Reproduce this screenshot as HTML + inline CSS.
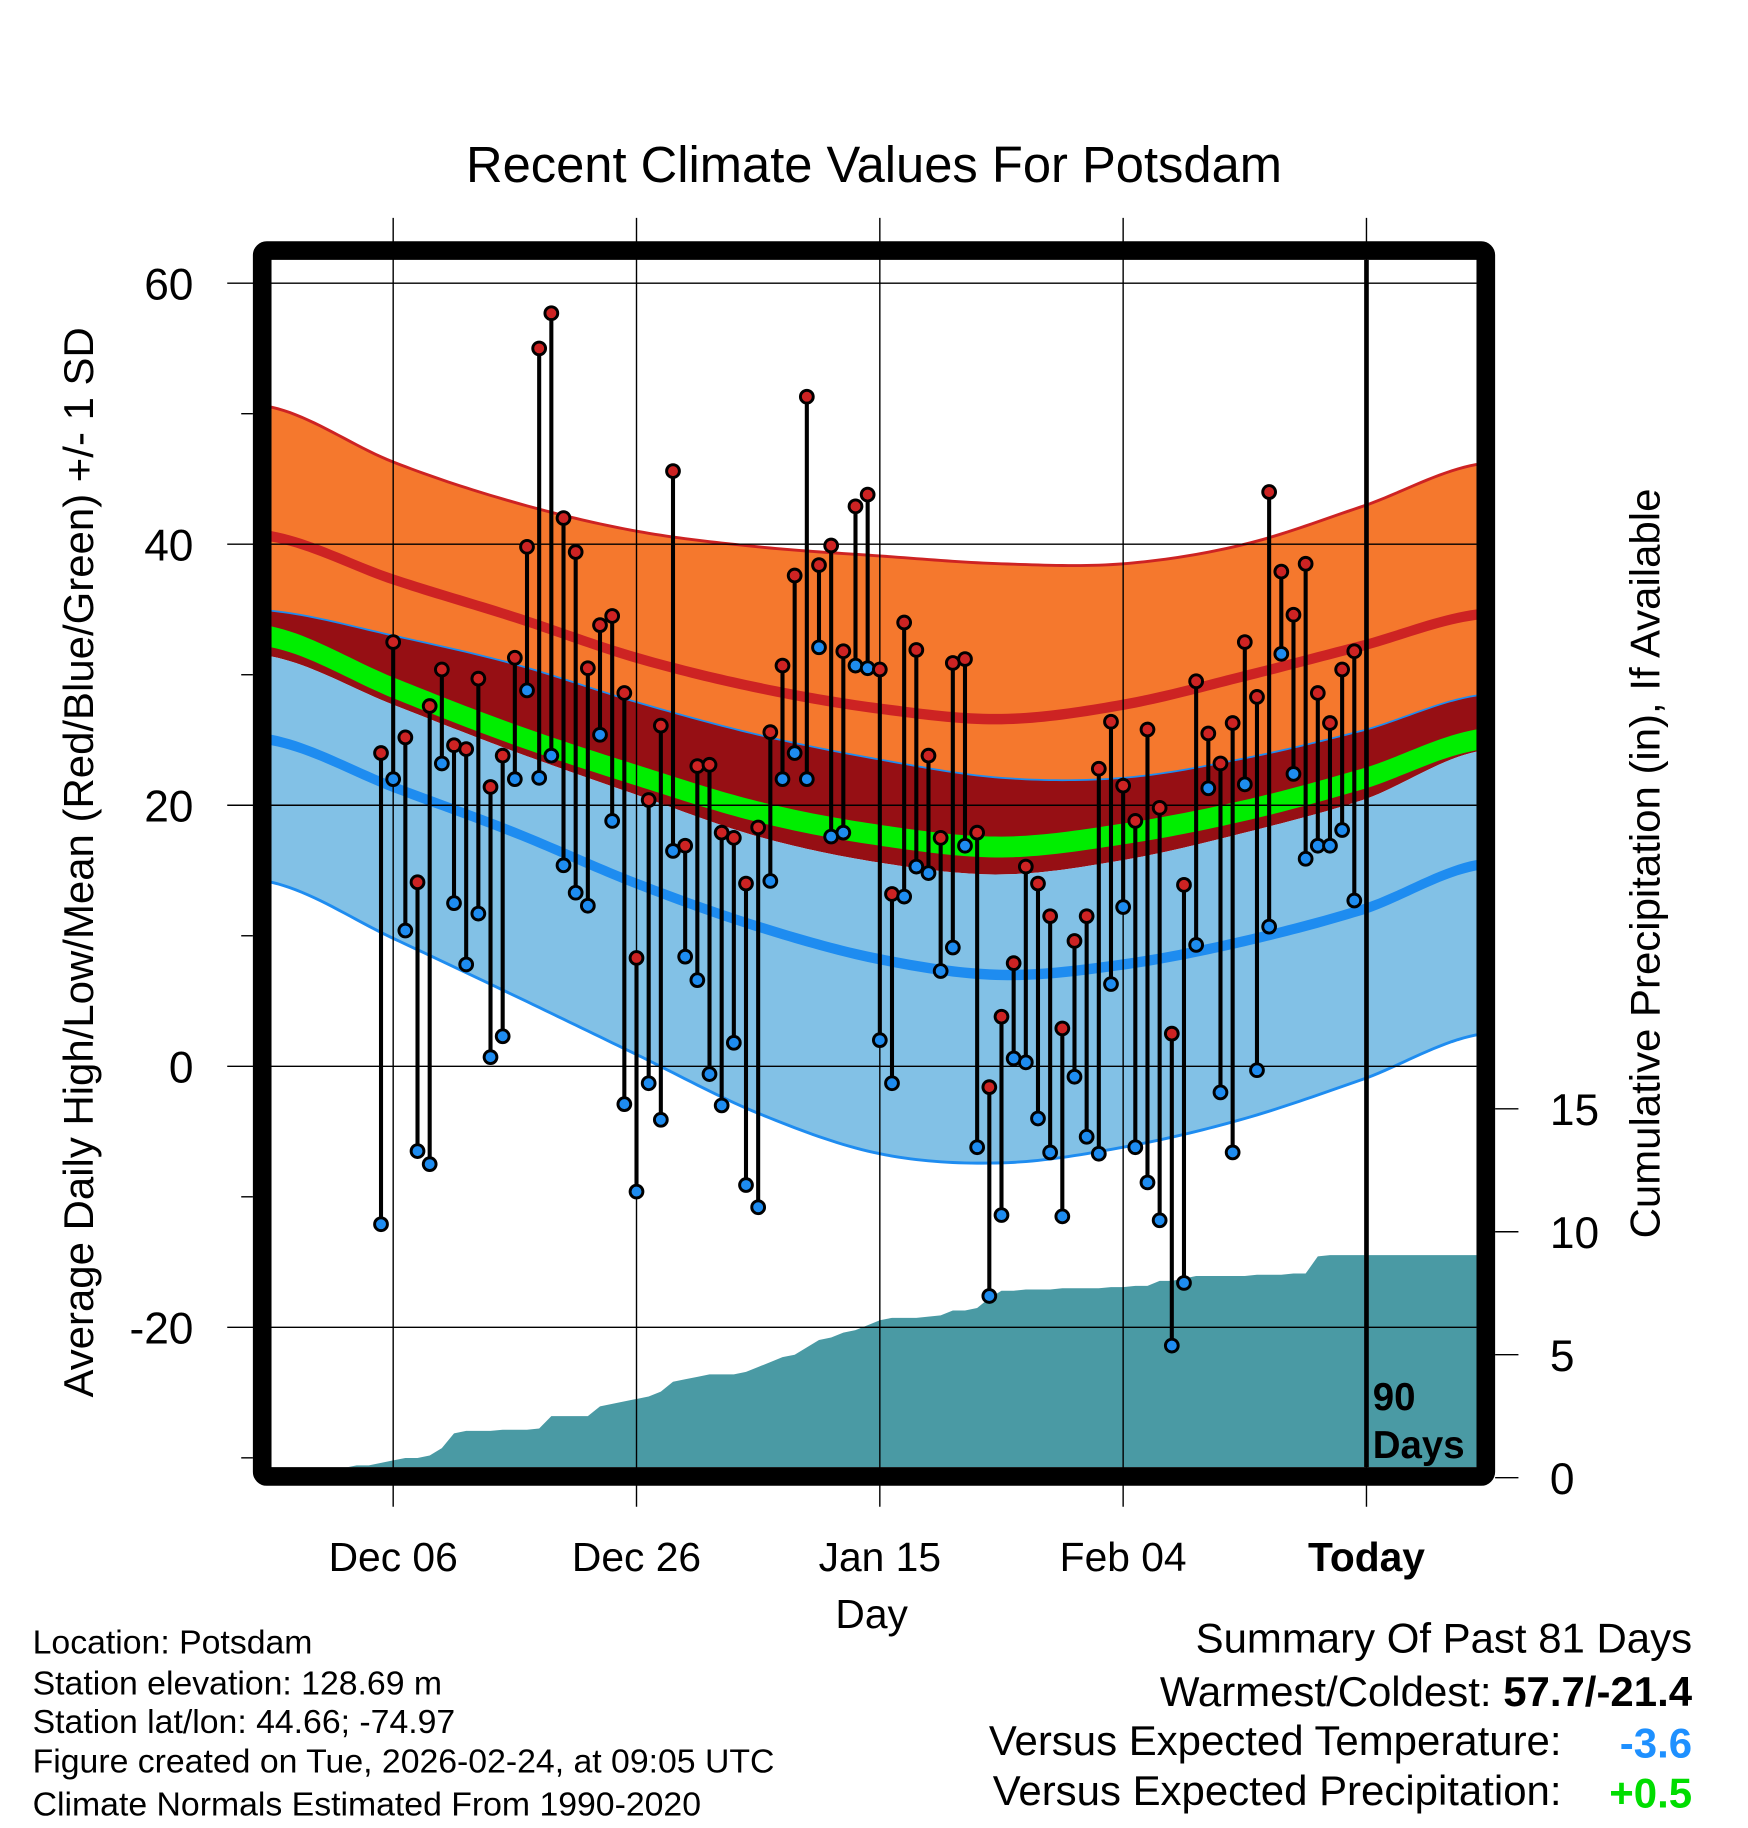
<!DOCTYPE html>
<html><head><meta charset="utf-8"><style>
html,body{margin:0;padding:0;background:#fff;}
svg{display:block;font-family:"Liberation Sans",Arial,sans-serif;}
</style></head><body>
<svg id="chart" width="1748" height="1828" viewBox="0 0 1500 1568.65" preserveAspectRatio="none" xmlns="http://www.w3.org/2000/svg">
<text x="750" y="156" text-anchor="middle" font-size="43.5">Recent Climate Values For Potsdam</text>
<defs><clipPath id="clip"><rect x="233" y="223" width="1034" height="1036"/></clipPath></defs>
<g id="fills" clip-path="url(#clip)"></g>
<g id="grid"></g>
<g id="marks" clip-path="url(#clip)"></g>
<rect x="225" y="215" width="1050" height="1052" fill="none" stroke="#000" stroke-width="16" rx="4"/>
<g id="axes"></g>
<text transform="translate(80,740) rotate(-90)" text-anchor="middle" font-size="36">Average Daily High/Low/Mean (Red/Blue/Green) +/- 1 SD</text>
<text transform="translate(1424,741) rotate(-90)" text-anchor="middle" font-size="36">Cumulative Precipitation (in), If Available</text>
<text x="748" y="1397" text-anchor="middle" font-size="35">Day</text>
<text x="1178" y="1210" font-size="33" font-weight="bold">90</text>
<text x="1178" y="1251" font-size="33" font-weight="bold">Days</text>
<g font-size="29">
<text x="28" y="1419">Location: Potsdam</text>
<text x="28" y="1454">Station elevation: 128.69 m</text>
<text x="28" y="1487">Station lat/lon: 44.66; -74.97</text>
<text x="28" y="1521">Figure created on Tue, 2026-02-24, at 09:05 UTC</text>
<text x="28" y="1558">Climate Normals Estimated From 1990-2020</text>
</g>
<g font-size="36">
<text x="1452" y="1418" text-anchor="end">Summary Of Past 81 Days</text>
<text x="1452" y="1464" text-anchor="end">Warmest/Coldest: <tspan font-weight="bold">57.7/-21.4</tspan></text>
<text x="1340" y="1506" text-anchor="end">Versus Expected Temperature:</text>
<text x="1452" y="1508" text-anchor="end" font-weight="bold" fill="#1e90ff">-3.6</text>
<text x="1340" y="1549" text-anchor="end">Versus Expected Precipitation:</text>
<text x="1452" y="1551" text-anchor="end" font-weight="bold" fill="#00dd00">+0.5</text>
</g>
</svg>
<script>
const highs=[24,32.5,25.2,14.1,27.6,30.4,24.6,24.3,29.7,21.4,23.8,31.3,39.8,55.0,57.7,42.0,39.4,30.5,33.8,34.5,28.6,8.3,20.4,26.1,45.6,16.9,23.0,23.1,17.9,17.5,14.0,18.3,25.6,30.7,37.6,51.3,38.4,39.9,31.8,42.9,43.8,30.4,13.2,34.0,31.9,23.8,17.5,30.9,31.2,17.9,-1.6,3.8,7.9,15.3,14.0,11.5,2.9,9.6,11.5,22.8,26.4,21.5,18.8,25.8,19.8,2.5,13.9,29.5,25.5,23.2,26.3,32.5,28.3,44.0,37.9,34.6,38.5,28.6,26.3,30.4,31.8];
const lows=[-12.1,22.0,10.4,-6.5,-7.5,23.2,12.5,7.8,11.7,0.7,2.3,22.0,28.8,22.1,23.8,15.4,13.3,12.3,25.4,18.8,-2.9,-9.6,-1.3,-4.1,16.5,8.4,6.6,-0.6,-3.0,1.8,-9.1,-10.8,14.2,22.0,24.0,22.0,32.1,17.6,17.9,30.7,30.5,2.0,-1.3,13.0,15.3,14.8,7.3,9.1,16.9,-6.2,-17.6,-11.4,0.6,0.3,-4.0,-6.6,-11.5,-0.8,-5.4,-6.7,6.3,12.2,-6.2,-8.9,-11.8,-21.4,-16.6,9.3,21.3,-2.0,-6.6,21.6,-0.3,10.7,31.6,22.4,15.9,16.9,16.9,18.1,12.7];
const firstDay=9;
const normDays=[0,10,20,30,40,50,60,70,80,90,99];
const highPlusSD=[50.5,46.3,43.2,41.0,39.8,39.1,38.5,38.5,40.0,43.0,46.1];
const highMean=[40.6,37.3,34.4,31.3,29.0,27.4,26.6,27.7,29.9,32.3,34.6];
const highMinusSD=[34.9,33.0,30.8,27.9,25.4,23.5,22.1,22.1,23.6,25.8,28.4];
const meanTemp=[32.9,29.0,25.4,22.3,19.5,17.7,16.8,17.8,19.6,22.1,25.0];
const lowPlusSD=[31.4,27.7,24.1,20.8,17.6,15.6,14.7,15.8,17.9,20.5,24.1];
const lowMean=[25.0,21.4,17.9,14.0,10.7,8.2,7.0,7.8,9.6,12.1,15.4];
const lowMinusSD=[14.1,9.8,5.4,0.9,-3.6,-6.7,-7.4,-6.2,-4.0,-0.9,2.4];
const precip=[0,0,0,0,0,0.2,0.4,0.5,0.5,0.6,0.7,0.8,0.8,0.9,1.2,1.8,1.9,1.9,1.9,1.95,1.95,1.95,2.0,2.5,2.5,2.5,2.5,2.9,3.0,3.1,3.2,3.3,3.5,3.9,4.0,4.1,4.2,4.2,4.2,4.3,4.5,4.7,4.9,5.0,5.3,5.6,5.7,5.9,6.0,6.2,6.4,6.5,6.5,6.5,6.55,6.6,6.8,6.8,6.9,7.3,7.6,7.6,7.65,7.65,7.65,7.7,7.7,7.7,7.7,7.75,7.75,7.8,7.8,8.0,8.0,8.1,8.2,8.2,8.2,8.2,8.2,8.25,8.25,8.25,8.3,8.3,9.0,9.05,9.05,9.05,9.05,9.05,9.05,9.05,9.05,9.05,9.05,9.05,9.05,9.05];
const yTicks=[60,40,20,0,-20];
const yMinor=[50,30,10,-10,-30];
const pTicks=[0,5,10,15];
const xTickDays=[10,30,50,70,90];
const xTickLabels=["Dec 06","Dec 26","Jan 15","Feb 04","Today"];

const NS="http://www.w3.org/2000/svg";
const X=d=>233+d*10.44;
const Y=v=>915-v*11.2;
const P=v=>1268-v*21.1;
function mk(tag,attrs,parent){const e=document.createElementNS(NS,tag);for(const k in attrs)e.setAttribute(k,attrs[k]);parent.appendChild(e);return e;}
function interp(arr,d){
  const n=normDays.length;
  let i=0;while(i<n-2&&d>normDays[i+1])i++;
  const t=(d-normDays[i])/(normDays[i+1]-normDays[i]);
  const p0=arr[Math.max(0,i-1)],p1=arr[i],p2=arr[i+1],p3=arr[Math.min(n-1,i+2)];
  return 0.5*((2*p1)+(-p0+p2)*t+(2*p0-5*p1+4*p2-p3)*t*t+(-p0+3*p1-3*p2+p3)*t*t*t);
}
function curve(arr){const pts=[];for(let d=-1;d<=100;d+=0.5)pts.push([X(d),Y(interp(arr,Math.max(0,Math.min(99,d))))]);return pts;}
function band(a,b,fill,name,parent){const top=curve(a),bot=curve(b).reverse();const p=mk('path',{d:'M'+top.concat(bot).map(p=>p.join(',')).join('L')+'Z',fill:fill},parent);

}
function line(arr,stroke,w,name,parent){const p=mk('path',{d:'M'+curve(arr).map(p=>p.join(',')).join('L'),fill:'none',stroke:stroke,'stroke-width':w},parent);

}
function offs(arr,o){return arr.map(v=>v+o);}
const fills=document.getElementById('fills');
band(highPlusSD,highMinusSD,'#f5782d','high-sd-band',fills);
band(highMinusSD,lowPlusSD,'#960f14','mean-sd-band',fills);
band(lowPlusSD,lowMinusSD,'#82c1e6','low-sd-band',fills);
band(offs(highMean,0.4),offs(highMean,-0.4),'#cd2323','high-mean-line',fills);
band(offs(meanTemp,0.8),offs(meanTemp,-0.8),'#00ee00','mean-temp-line',fills);
band(offs(lowMean,0.4),offs(lowMean,-0.4),'#1e8cf0','low-mean-line',fills);
line(highPlusSD,'#cd2323',2.5,'high-plus-sd-line',fills);
line(highMinusSD,'#1e8cf0',1.5,'high-minus-sd-line',fills);
line(lowMinusSD,'#1e8cf0',2.5,'low-minus-sd-line',fills);
let pd='M'+X(0)+','+P(0);
precip.forEach((v,d)=>{pd+='L'+X(d)+','+P(v);});
pd+='L'+X(100)+','+P(precip[precip.length-1])+'L'+X(100)+','+P(0)+'Z';
const pa=mk('path',{d:pd,fill:'#4a9aa4'},fills);



const grid=document.getElementById('grid');
yTicks.forEach(v=>{const l=mk('line',{x1:195,x2:1267,y1:Y(v),y2:Y(v),stroke:'#000','stroke-width':1.2},grid);


const t=mk('text',{x:166,y:Y(v)+14,'text-anchor':'end','font-size':38},grid);t.textContent=v;

});
yMinor.forEach(v=>{const l=mk('line',{x1:207,x2:217,y1:Y(v),y2:Y(v),stroke:'#000','stroke-width':1.2},grid);

});
xTickDays.forEach((d,i)=>{const l=mk('line',{x1:X(d),x2:X(d),y1:187,y2:1293,stroke:'#000','stroke-width':1.2},grid);


const t=mk('text',{x:X(d),y:1348,'text-anchor':'middle','font-size':35},grid);t.textContent=xTickLabels[i];
if(i===4)t.setAttribute('font-weight','bold');

});
pTicks.forEach(v=>{const l=mk('line',{x1:1283,x2:1303,y1:P(v),y2:P(v),stroke:'#000','stroke-width':1.2},grid);


const t=mk('text',{x:1330,y:P(v)+14,'font-size':38},grid);t.textContent=v;

});

const marks=document.getElementById('marks');
const tl=mk('line',{x1:X(90),x2:X(90),y1:187,y2:1265,stroke:'#000','stroke-width':4},marks);


highs.forEach((h,i)=>{const x=X(firstDay+i),lo=lows[i];
const s=mk('line',{x1:x,x2:x,y1:Y(h),y2:Y(lo),stroke:'#000','stroke-width':3.5},marks);


const c1=mk('circle',{cx:x,cy:Y(lo),r:5.5,fill:'#1e8cf0',stroke:'#000','stroke-width':2.5},marks);


const c2=mk('circle',{cx:x,cy:Y(h),r:5.5,fill:'#cd2323',stroke:'#000','stroke-width':2.5},marks);

});
</script>
</body></html>
